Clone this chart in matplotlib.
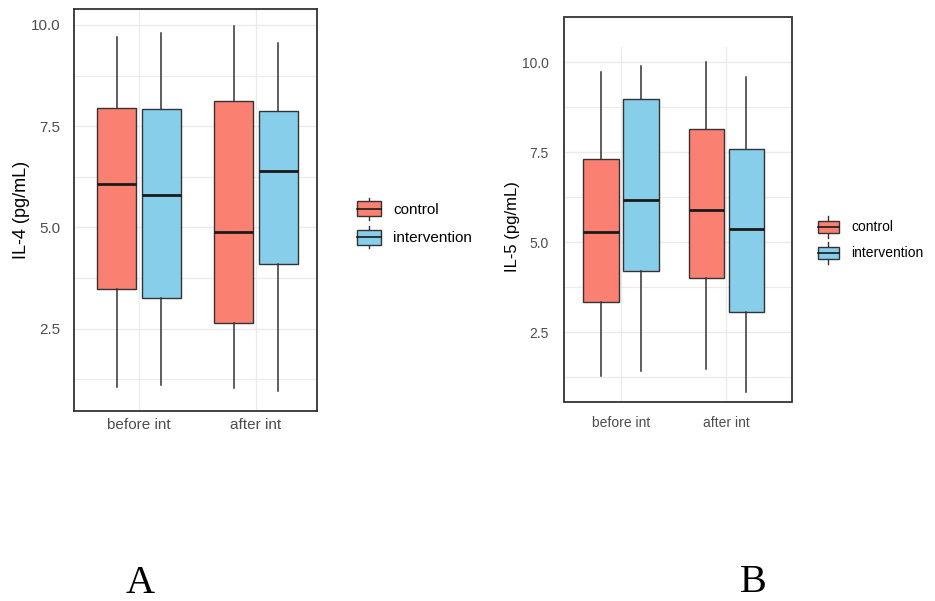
import numpy as np
import matplotlib
matplotlib.use("Agg")
import matplotlib.pyplot as plt
from matplotlib.patches import Rectangle
from matplotlib.lines import Line2D
from matplotlib.legend_handler import HandlerBase

plt.rcParams['font.family'] = ['Liberation Sans', 'DejaVu Sans']

groups = ['before int', 'after int']
series = ['control', 'intervention']
colors = ['#FA8072', '#87CEEB']

# five-number summaries per group: whislo, q1, median, q3, whishi
il4_control = [[1.05, 3.47, 6.08, 7.96, 9.71], [1.03, 2.65, 4.88, 8.13, 9.98]]
il4_intervention = [[1.11, 3.25, 5.80, 7.93, 9.81], [0.97, 4.10, 6.40, 7.87, 9.56]]
il5_control = [[1.28, 3.32, 5.29, 7.30, 9.73], [1.46, 4.01, 5.90, 8.14, 10.00]]
il5_intervention = [[1.42, 4.20, 6.16, 8.97, 9.88], [0.84, 3.06, 5.35, 7.58, 9.59]]

W, H = 935, 601
fig = plt.figure(figsize=(W / 100, H / 100), dpi=100)

def fx(px):
    return px / W

def fy(py):
    return 1 - py / H


class BoxKey(HandlerBase):
    def __init__(self, frac=0.65):
        super().__init__()
        self.frac = frac

    def create_artists(self, legend, orig, xd, yd, width, height, fontsize, trans):
        x0, y0 = -xd, -yd
        bh = height * self.frac
        by = y0 + (height - bh) / 2
        whisk = Line2D([x0 + width / 2] * 2, [y0, y0 + height], color='#333333', lw=1, transform=trans)
        rect = Rectangle((x0, by), width, bh, facecolor=orig.get_facecolor(),
                         edgecolor='#333333', lw=1, transform=trans)
        med = Line2D([x0, x0 + width], [by + bh / 2] * 2, color='#1a1a1a', lw=1.2, transform=trans)
        return [whisk, rect, med]


def draw_panel(ax, ctrl, interv, xlim, ylim, fs):
    x = np.arange(1, len(groups) + 1)
    for k, (data, col) in enumerate(zip([ctrl, interv], colors)):
        stats = [dict(whislo=d[0], q1=d[1], med=d[2], q3=d[3], whishi=d[4], fliers=[]) for d in data]
        off = -0.19 if k == 0 else 0.19
        ax.bxp(stats, positions=x + off, widths=0.335, patch_artist=True, showcaps=False,
               boxprops=dict(facecolor=col, edgecolor='#333333', lw=1),
               whiskerprops=dict(color='#333333', lw=1.1),
               medianprops=dict(color='#1a1a1a', lw=2), manage_ticks=False, zorder=3)
    ax.set_xlim(*xlim)
    ax.set_ylim(*ylim)
    ax.set_xticks(x)
    ax.set_xticklabels(groups)
    ax.set_yticks([2.5, 5.0, 7.5, 10.0])
    ax.set_yticklabels(['2.5', '5.0', '7.5', '10.0'])
    ax.set_yticks([1.25, 3.75, 6.25, 8.75], minor=True)
    ax.grid(True, which='major', color='#EBEBEB', lw=1, zorder=0)
    ax.grid(True, which='minor', axis='y', color='#EBEBEB', lw=0.8, zorder=0)
    ax.tick_params(which='both', length=0, labelsize=fs, labelcolor='#4D4D4D')
    ax.set_axisbelow(True)


# panel A
ax1 = fig.add_axes([fx(74), fy(411), fx(317 - 74), (411 - 9) / H])
draw_panel(ax1, il4_control, il4_intervention, (0.444, 2.521), (0.469, 10.395), 11)
ax1.tick_params(axis='y', pad=10)
ax1.tick_params(axis='x', pad=5)
for s in ax1.spines.values():
    s.set_color('#333333')
    s.set_linewidth(1.3)
fig.text(fx(22), fy(210), 'IL-4 (pg/mL)', rotation=90, ha='center', va='center', fontsize=13)

# panel B (border box taller than gridded area)
ax2 = fig.add_axes([fx(564), fy(402), fx(792 - 564), (402 - 47) / H])
draw_panel(ax2, il5_control, il5_intervention, (0.459, 2.622), (0.556, 10.417), 10)
ax2.tick_params(axis='y', pad=11)
ax2.tick_params(axis='x', pad=10)
for s in ax2.spines.values():
    s.set_visible(False)
fig.add_artist(Rectangle((fx(564), fy(402)), fx(792 - 564), (402 - 17) / H, fill=False,
                         edgecolor='#333333', lw=1.3, transform=fig.transFigure))
fig.text(fx(513), fy(227), 'IL-5 (pg/mL)', rotation=90, ha='center', va='center', fontsize=12)

# legends
handles = [Rectangle((0, 0), 1, 1, facecolor=c) for c in colors]
fig.legend(handles, series, handler_map={Rectangle: BoxKey(0.65)}, loc='center left',
           bbox_to_anchor=(fx(357), fy(223)), frameon=False, fontsize=11,
           handlelength=1.57, handleheight=1.88, handletextpad=0.78,
           labelspacing=0.4, borderpad=0, borderaxespad=0)
fig.legend(handles, series, handler_map={Rectangle: BoxKey(0.58)}, loc='center left',
           bbox_to_anchor=(fx(818), fy(240)), frameon=False, fontsize=10,
           handlelength=1.51, handleheight=1.98, handletextpad=0.86,
           labelspacing=0.34, borderpad=0, borderaxespad=0)

fig.text(fx(140), fy(593), 'A', ha='center', va='baseline', fontsize=29, family='Liberation Serif')
fig.text(fx(753), fy(592), 'B', ha='center', va='baseline', fontsize=29, family='Liberation Serif')

fig.savefig('out.png', dpi=100)
